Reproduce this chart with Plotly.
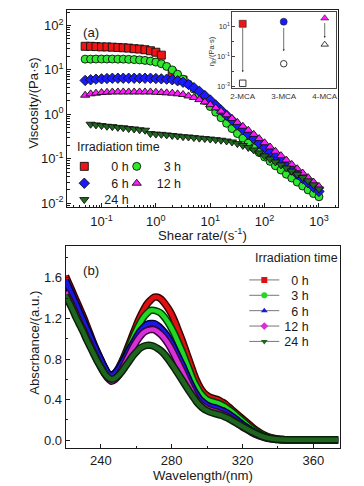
import math
import plotly.graph_objects as go

# ---------------- panel (a): viscosity vs shear rate ----------------
shear_rate = [0.05, 0.063, 0.079, 0.1, 0.126, 0.158, 0.2, 0.251, 0.316, 0.398,
              0.501, 0.631, 0.794, 1.0, 1.26, 1.58, 2.0, 2.51, 3.16, 3.98,
              5.01, 6.31, 7.94, 10, 12.6, 15.8, 20, 25.1, 31.6, 39.8,
              50.1, 63.1, 79.4, 100, 126, 158, 200, 251, 316, 398,
              501, 631, 794, 1000]
shear_0h = [0.05, 0.063, 0.079, 0.1, 0.126, 0.158, 0.2, 0.251, 0.316, 0.398,
            0.501, 0.631, 0.794, 1.0, 1.26, 2.0, 3.16]
visc_0h = [34, 34, 33.5, 33, 33, 32.5, 32, 31.5, 31, 30,
           29.5, 28.5, 27, 25, 21.5, 8.6, 5.9]
visc_3h = [17.5, 17.5, 17.6, 17.6, 17.6, 17.6, 17.5, 17.5, 17.3, 17.1,
           16.8, 16.4, 15.8, 15.0, 13.8, 12.0, 10.0, 8.0, 6.2, 4.8,
           3.7, 2.8, 2.05, 1.5, 1.12, 0.84, 0.63, 0.48, 0.37, 0.29,
           0.225, 0.176, 0.139, 0.11, 0.088, 0.07, 0.056, 0.045, 0.037, 0.03,
           0.0245, 0.02, 0.0165, 0.014]
visc_6h = [5.8, 6.0, 6.2, 6.3, 6.4, 6.5, 6.5, 6.5, 6.5, 6.5,
           6.5, 6.5, 6.5, 6.4, 6.3, 6.2, 6.0, 5.7, 5.3, 4.7,
           4.0, 3.3, 2.65, 2.1, 1.62, 1.25, 0.96, 0.75, 0.58, 0.46,
           0.36, 0.285, 0.225, 0.178, 0.14, 0.111, 0.088, 0.07, 0.056, 0.045,
           0.036, 0.029, 0.023, 0.0185]
visc_12h = [2.7, 2.9, 3.0, 3.1, 3.15, 3.2, 3.2, 3.2, 3.2, 3.2,
            3.2, 3.2, 3.2, 3.15, 3.1, 3.05, 3.0, 2.9, 2.8, 2.6,
            2.4, 2.15, 1.9, 1.65, 1.4, 1.18, 0.98, 0.81, 0.66, 0.54,
            0.44, 0.355, 0.285, 0.23, 0.185, 0.148, 0.118, 0.094, 0.075, 0.06,
            0.048, 0.038, 0.03, 0.024]
shear_24h = shear_rate[1:]
visc_24h = [0.6, 0.58, 0.56, 0.54, 0.53, 0.51, 0.5, 0.48, 0.47, 0.45,
            0.44, 0.37, 0.36, 0.355, 0.345, 0.335, 0.325, 0.315, 0.31, 0.3,
            0.292, 0.285, 0.278, 0.27, 0.262, 0.252, 0.24, 0.22, 0.2, 0.18,
            0.158, 0.136, 0.116, 0.099, 0.085, 0.073, 0.062, 0.053, 0.045, 0.038,
            0.032, 0.026, 0.021]

# inset: zero-shear viscosity before / after irradiation
inset_labels = ["2-MCA", "3-MCA", "4-MCA"]
inset_before = [16, 22, 38]
inset_after = [0.0016, 0.033, 0.65]

# ---------------- panel (b): UV absorbance ----------------
wavelength = [220, 222, 224, 226, 228, 230, 232, 234, 236, 238,
              240, 242, 244, 246, 248, 250, 252, 254, 256, 258,
              260, 262, 264, 266, 268, 270, 272, 274, 276, 278,
              280, 282, 284, 286, 288, 290, 292, 294, 296, 298,
              300, 302, 304, 306, 308, 310, 312, 314, 316, 318,
              320, 322, 324, 326, 328, 330, 332, 334, 336, 338,
              340, 342, 344, 346, 348, 350, 352, 354, 356, 358,
              360, 362, 364, 366, 368, 370, 372, 374]
abs_0h = [1.62, 1.54, 1.46, 1.38, 1.30, 1.22, 1.13, 1.04, 0.95, 0.87,
          0.79, 0.71, 0.65, 0.63, 0.66, 0.71, 0.78, 0.86, 0.95, 1.04,
          1.13, 1.21, 1.28, 1.34, 1.38, 1.41, 1.41, 1.39, 1.35, 1.30,
          1.24, 1.16, 1.07, 0.98, 0.88, 0.78, 0.68, 0.59, 0.52, 0.47,
          0.44, 0.42, 0.41, 0.40, 0.38, 0.36, 0.33, 0.30, 0.27, 0.24,
          0.21, 0.18, 0.15, 0.12, 0.095, 0.072, 0.052, 0.036, 0.024, 0.016,
          0.010, 0.007, 0.005, 0.004, 0.004, 0.003, 0.003, 0.003, 0.003, 0.003,
          0.002, 0.002, 0.002, 0.002, 0.002, 0.002, 0.002, 0.002]
abs_3h = [1.55, 1.48, 1.40, 1.33, 1.25, 1.17, 1.09, 1.01, 0.93, 0.85,
          0.78, 0.71, 0.65, 0.63, 0.65, 0.70, 0.77, 0.84, 0.92, 1.00,
          1.08, 1.15, 1.21, 1.25, 1.28, 1.28, 1.27, 1.25, 1.21, 1.16,
          1.10, 1.03, 0.95, 0.87, 0.78, 0.69, 0.60, 0.53, 0.47, 0.43,
          0.40, 0.385, 0.375, 0.365, 0.35, 0.33, 0.305, 0.28, 0.25, 0.22,
          0.19, 0.16, 0.13, 0.105, 0.082, 0.062, 0.045, 0.031, 0.021, 0.014,
          0.009, 0.006, 0.004, 0.004, 0.003, 0.003, 0.003, 0.003, 0.003, 0.003,
          0.002, 0.002, 0.002, 0.002, 0.002, 0.002, 0.002, 0.002]
abs_6h = [1.58, 1.50, 1.42, 1.34, 1.26, 1.18, 1.10, 1.02, 0.94, 0.86,
          0.79, 0.72, 0.66, 0.64, 0.66, 0.70, 0.76, 0.82, 0.89, 0.95,
          1.01, 1.07, 1.11, 1.14, 1.15, 1.15, 1.13, 1.10, 1.06, 1.01,
          0.95, 0.88, 0.81, 0.74, 0.66, 0.58, 0.51, 0.45, 0.40, 0.37,
          0.345, 0.33, 0.32, 0.31, 0.295, 0.28, 0.26, 0.235, 0.21, 0.18,
          0.155, 0.13, 0.105, 0.085, 0.065, 0.048, 0.034, 0.023, 0.015, 0.010,
          0.007, 0.005, 0.004, 0.003, 0.003, 0.003, 0.003, 0.003, 0.003, 0.003,
          0.002, 0.002, 0.002, 0.002, 0.002, 0.002, 0.002, 0.002]
abs_12h = [1.46, 1.39, 1.32, 1.24, 1.16, 1.09, 1.01, 0.94, 0.86, 0.79,
           0.72, 0.66, 0.61, 0.58, 0.60, 0.64, 0.70, 0.77, 0.84, 0.91,
           0.97, 1.02, 1.06, 1.08, 1.09, 1.09, 1.07, 1.04, 1.00, 0.95,
           0.89, 0.82, 0.75, 0.68, 0.60, 0.53, 0.46, 0.40, 0.36, 0.33,
           0.31, 0.295, 0.285, 0.275, 0.26, 0.245, 0.225, 0.205, 0.18, 0.155,
           0.13, 0.11, 0.09, 0.07, 0.053, 0.039, 0.028, 0.019, 0.013, 0.009,
           0.006, 0.005, 0.004, 0.003, 0.003, 0.003, 0.003, 0.003, 0.003, 0.003,
           0.002, 0.002, 0.002, 0.002, 0.002, 0.002, 0.002, 0.002]
abs_24h = [1.43, 1.36, 1.29, 1.21, 1.14, 1.07, 0.99, 0.92, 0.85, 0.78,
           0.72, 0.66, 0.62, 0.60, 0.61, 0.64, 0.68, 0.73, 0.78, 0.83,
           0.87, 0.905, 0.925, 0.935, 0.935, 0.925, 0.905, 0.88, 0.845, 0.80,
           0.75, 0.70, 0.645, 0.59, 0.535, 0.48, 0.43, 0.38, 0.34, 0.31,
           0.29, 0.275, 0.265, 0.255, 0.245, 0.23, 0.215, 0.195, 0.175, 0.155,
           0.135, 0.115, 0.095, 0.077, 0.06, 0.045, 0.033, 0.023, 0.016, 0.011,
           0.008, 0.006, 0.005, 0.004, 0.004, 0.004, 0.003, 0.003, 0.003, 0.003,
           0.003, 0.003, 0.003, 0.003, 0.003, 0.003, 0.003, 0.003]

series_names = ["0 h", "3 h", "6 h", "12 h", "24 h"]

# ---------------- styling ----------------
W, H = 364, 486
FONT = "Liberation Sans, Arial, Helvetica, sans-serif"
AX = "#1a1a1a"
col_a = ["#f01414", "#2ee82e", "#1a1aff", "#ff1aff", "#1f6a1f"]
sym_a = ["square", "circle", "diamond", "triangle-up", "triangle-down"]
col_b = ["#e01010", "#22d822", "#1818e0", "#d830d8", "#1e661e"]
edge_b = ["#3a0000", "#003a00", "#00003a", "#3a003a", "#0a200a"]
sym_b = ["square", "circle", "triangle-up", "diamond", "triangle-down"]
pad_names = ["\u2007" + series_names[0], "\u2007" + series_names[1],
             "\u2007" + series_names[2], series_names[3], series_names[4]]
# one legend box per entry: (marker centre x px, row centre y px)
leg_pos_a = [(85, 165), (138, 165), (85, 182), (138, 182), (85, 198.5)]
leg_pos_b = [(267, 279.5), (267, 295), (267, 310.5), (267, 326), (267, 341.5)]
LEG_DX, LEG_DY = 22, 12


def px_x(p):
    return p / W


def px_y(p):
    return 1 - p / H


def leg_id(k):
    return "legend" if k == 0 else "legend%d" % (k + 1)


fig = go.Figure()

# panel (a) traces
a_x = [shear_0h, shear_rate, shear_rate, shear_rate, shear_24h]
a_y = [visc_0h, visc_3h, visc_6h, visc_12h, visc_24h]
for i in range(5):
    fig.add_trace(go.Scatter(
        x=a_x[i], y=a_y[i], mode="markers", name=pad_names[i],
        legend=leg_id(i), xaxis="x", yaxis="y",
        marker=dict(symbol=sym_a[i], size=8, color=col_a[i],
                    line=dict(color="#111111", width=0.9)),
    ))

# inset traces
fig.add_trace(go.Scatter(
    x=inset_labels, y=inset_before, mode="markers", showlegend=False,
    xaxis="x3", yaxis="y3",
    marker=dict(symbol=["square", "circle", "triangle-up"], size=7,
                color=[col_a[0], col_a[2], col_a[3]],
                line=dict(color="#222222", width=0.6)),
))
fig.add_trace(go.Scatter(
    x=inset_labels, y=inset_after, mode="markers", showlegend=False,
    xaxis="x3", yaxis="y3",
    marker=dict(symbol=["square-open", "circle-open", "triangle-up-open"], size=6.5,
                color="#222222", line=dict(width=0.9)),
))

# panel (b) traces: dark outline band + coloured core
b_y = [abs_0h, abs_3h, abs_6h, abs_12h, abs_24h]
for i in range(5):
    fig.add_trace(go.Scatter(
        x=wavelength, y=b_y[i], mode="lines", showlegend=False,
        xaxis="x2", yaxis="y2", hoverinfo="skip",
        line=dict(color=edge_b[i], width=7.5, shape="spline", smoothing=0.6),
    ))
    fig.add_trace(go.Scatter(
        x=wavelength, y=b_y[i], mode="lines", showlegend=False,
        xaxis="x2", yaxis="y2",
        line=dict(color=col_b[i], width=4.5, shape="spline", smoothing=0.6),
    ))
# panel (b) legend entries
for i in range(5):
    fig.add_trace(go.Scatter(
        x=[None], y=[None], mode="lines+markers",
        name=pad_names[i] if i < 3 else series_names[i],
        legend=leg_id(5 + i), xaxis="x2", yaxis="y2",
        line=dict(color="#777777", width=1),
        marker=dict(symbol=sym_b[i], size=6, color=col_b[i], line=dict(width=0)),
    ))

tickfont = dict(family=FONT, size=13, color=AX)


def sup(e):
    return "10<sup>%d</sup>" % e


xa_major = [0.1, 1, 10, 100, 1000]
ya_major = [0.01, 0.1, 1, 10, 100]
xa_minor = [m * 10 ** e for e in range(-2, 4) for m in range(2, 10) if 0.02 < m * 10 ** e < 2300]
ya_minor = [m * 10 ** e for e in range(-3, 3) for m in range(2, 10) if 0.008 < m * 10 ** e < 230]

common = dict(showline=True, linecolor=AX, linewidth=1.2, mirror=True,
              ticks="inside", tickcolor=AX, showgrid=False, zeroline=False,
              tickfont=tickfont)

layout = dict(
    width=W, height=H, margin=dict(l=0, r=0, t=0, b=0),
    paper_bgcolor="white", plot_bgcolor="white",
    font=dict(family=FONT, color=AX),
    xaxis=dict(domain=[px_x(66), px_x(340)], anchor="y", type="log",
               range=[-1.63, 3.355], tickmode="array", tickvals=xa_major,
               ticktext=[sup(-1), sup(0), sup(1), sup(2), sup(3)], ticklen=4,
               ticklabelstandoff=2,
               minor=dict(tickmode="array", tickvals=xa_minor, ticks="inside",
                          ticklen=2.2, tickcolor=AX, showgrid=False),
               **common),
    yaxis=dict(domain=[px_y(209), px_y(10)], anchor="x", type="log",
               range=[-2.09, 2.35], tickmode="array", tickvals=ya_major,
               ticktext=[sup(-2), sup(-1), sup(0), sup(1), sup(2)], ticklen=4,
               minor=dict(tickmode="array", tickvals=ya_minor, ticks="inside",
                          ticklen=2.2, tickcolor=AX, showgrid=False),
               **common),
    xaxis2=dict(domain=[px_x(64.5), px_x(341.7)], anchor="y2",
                range=[220.2, 375], tickmode="linear", tick0=240, dtick=40, ticklen=4,
                minor=dict(dtick=20, ticks="inside", ticklen=2.5, tickcolor=AX,
                           showgrid=False),
                **common),
    yaxis2=dict(domain=[px_y(452), px_y(248)], anchor="x2",
                range=[-0.08, 1.915], tickmode="linear", tick0=0, dtick=0.4,
                tickformat=".1f", ticklen=4,
                minor=dict(dtick=0.2, ticks="inside", ticklen=2.5, tickcolor=AX,
                           showgrid=False),
                **common),
    xaxis3=dict(domain=[px_x(233), px_x(337.5)], anchor="y3", type="category",
                range=[-0.25, 2.27], showline=True, linecolor="#444444", linewidth=1,
                mirror=True, ticks="", showgrid=False,
                tickfont=dict(family=FONT, size=8, color="#333333")),
    yaxis3=dict(domain=[px_y(89), px_y(12.5)], anchor="x3", type="log",
                range=[-3.13, 1.97], tickmode="array", tickvals=[0.001, 0.1, 10],
                ticktext=[sup(-3), sup(-1), sup(1)], ticks="inside", ticklen=2.5,
                tickcolor="#444444", showline=True, linecolor="#444444", linewidth=1,
                mirror=True, showgrid=False, zeroline=False,
                minor=dict(tickmode="array", tickvals=[0.01, 1], ticks="inside",
                           ticklen=1.5, tickcolor="#444444", showgrid=False),
                tickfont=dict(family=FONT, size=7.5, color="#333333")),
)
for k, (mx, my) in enumerate(leg_pos_a + leg_pos_b):
    layout[leg_id(k)] = dict(
        x=px_x(mx - LEG_DX), xanchor="left", y=px_y(my - LEG_DY), yanchor="top",
        bgcolor="rgba(0,0,0,0)", borderwidth=0,
        font=dict(family=FONT, size=12.5, color=AX))
fig.update_layout(**layout)

# axis titles, legend headings & panel labels
ann = [
    dict(text="Shear rate/(s<sup>-1</sup>)", x=px_x(203), y=px_y(236)),
    dict(text="Viscosity/(Pa·s)", x=px_x(31), y=px_y(104), textangle=-90),
    dict(text="Wavelength/(nm)", x=px_x(203), y=px_y(479)),
    dict(text="Abscrbance/(a.u.)", x=px_x(33), y=px_y(346), textangle=-90),
    dict(text="(a)", x=px_x(90), y=px_y(33)),
    dict(text="(b)", x=px_x(90), y=px_y(273)),
]
for a in ann:
    fig.add_annotation(xref="paper", yref="paper", showarrow=False,
                       xanchor="center", yanchor="middle",
                       font=dict(family=FONT, size=13.2, color=AX), **a)
for tx, ty in [(74, 148), (254, 260)]:
    fig.add_annotation(xref="paper", yref="paper", showarrow=False,
                       text="Irradiation time", x=px_x(tx), y=px_y(ty),
                       xanchor="left", yanchor="middle",
                       font=dict(family=FONT, size=12.5, color=AX))
fig.add_annotation(xref="paper", yref="paper", showarrow=False,
                   text="η<sub>0</sub>/(Pa·s)", x=px_x(212), y=px_y(52), textangle=-90,
                   xanchor="center", yanchor="middle",
                   font=dict(family=FONT, size=7.5, color="#333333"))

# arrows in inset (from before-value down to after-value)
inset_h = (px_y(12.5) - px_y(89)) * H
px_per_dec = inset_h / (1.97 - (-3.13))
tip_gap = [11, 12.5, 6.5]
tail_gap = [3, 5, 3.5]
for i, lab in enumerate(inset_labels):
    span = (math.log10(inset_before[i]) - math.log10(inset_after[i])) * px_per_dec
    length = span - tip_gap[i] - tail_gap[i]
    fig.add_annotation(xref="x3", yref="y3", x=lab, y=math.log10(inset_after[i]),
                       yshift=tip_gap[i], ax=0, ay=-length, text="",
                       showarrow=True, arrowhead=2, arrowsize=0.55, arrowwidth=0.7,
                       arrowcolor="#333333")

fig.write_html("out.html", config={"displayModeBar": False},
               post_script="document.body.style.margin='0px';")
